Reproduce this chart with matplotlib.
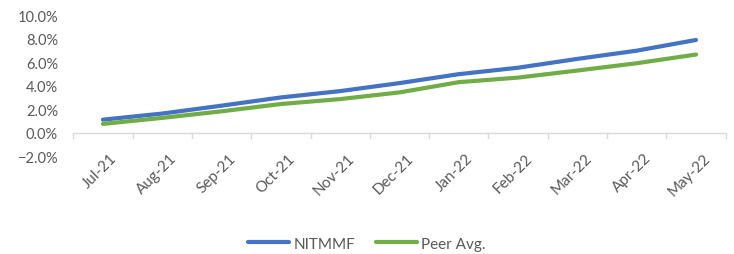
import matplotlib.pyplot as plt
from matplotlib.ticker import PercentFormatter

plt.rcParams['font.family'] = ['Lato', 'DejaVu Sans']

# Data
months = ["Jul-21", "Aug-21", "Sep-21", "Oct-21", "Nov-21", "Dec-21",
          "Jan-22", "Feb-22", "Mar-22", "Apr-22", "May-22"]
nitmmf = [1.10, 1.62, 2.29, 2.99, 3.53, 4.21, 4.97, 5.52, 6.27, 6.97, 7.88]
peer_avg = [0.74, 1.25, 1.81, 2.43, 2.85, 3.42, 4.29, 4.68, 5.28, 5.90, 6.64]

text_col = '#595959'
axis_col = '#D9D9D9'

fig = plt.figure(figsize=(7.34, 2.55), dpi=100)
ax = fig.add_axes([0.0999, 0.384, 0.8887, 0.553])

x = list(range(len(months)))
ax.plot(x, nitmmf, color='#4472C4', lw=3, solid_capstyle='round',
        solid_joinstyle='round', label='NITMMF')
ax.plot(x, peer_avg, color='#70AD47', lw=3, solid_capstyle='round',
        solid_joinstyle='round', label='Peer Avg.')

ax.set_xlim(-0.5, len(months) - 0.5)
ax.set_ylim(-2, 10)
ax.set_yticks([-2, 0, 2, 4, 6, 8, 10])
ax.yaxis.set_major_formatter(PercentFormatter(decimals=1))
ax.tick_params(axis='y', length=0, pad=11, labelsize=10.5, labelcolor=text_col)

for s in ax.spines.values():
    s.set_visible(False)

# horizontal axis line at 0 with category-boundary ticks
ax.axhline(0, color=axis_col, lw=1)
ax.set_xticks([])
for b in range(len(months) + 1):
    ax.plot([b - 0.5, b - 0.5], [0, -0.45], color=axis_col, lw=1, clip_on=False)

# rotated month labels below the plot area
for i, m in enumerate(months):
    ax.annotate(m, xy=(i, -2), xytext=(5, 4), textcoords='offset points',
                rotation=45, ha='right', va='top', rotation_mode='anchor',
                fontsize=11, color=text_col, annotation_clip=False)

leg = fig.legend(loc='center', bbox_to_anchor=(0.5, 0.04), ncol=2, frameon=False,
                 fontsize=11, handlelength=2.7, handletextpad=0.3,
                 columnspacing=1.3)
for t in leg.get_texts():
    t.set_color(text_col)

fig.savefig('out.png', dpi=100)
